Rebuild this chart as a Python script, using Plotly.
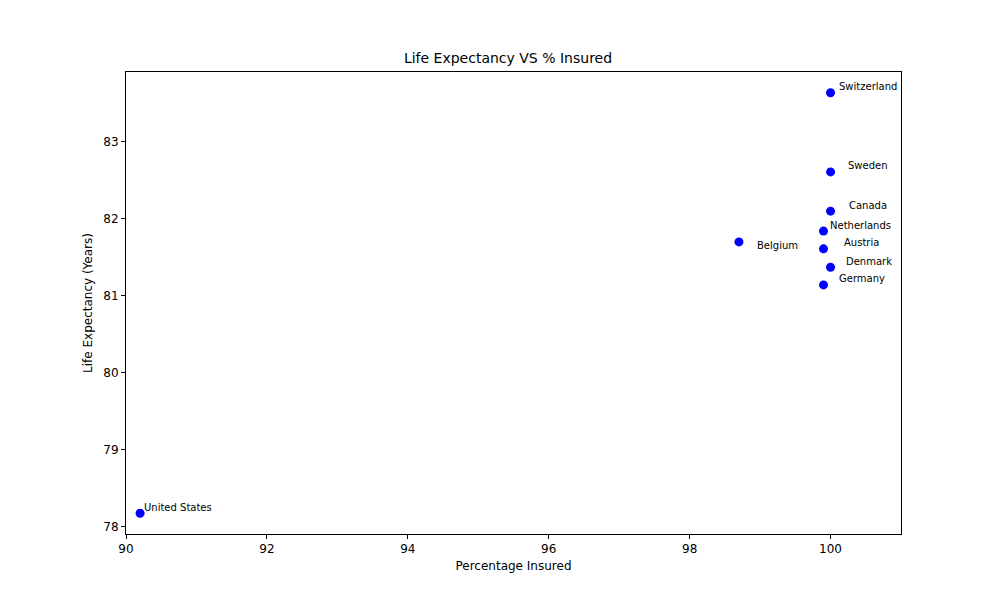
import plotly.graph_objects as go

countries = ["United States", "Switzerland", "Sweden", "Canada", "Netherlands",
             "Belgium", "Austria", "Denmark", "Germany"]
pct_insured = [90.2, 100.0, 100.0, 100.0, 99.9, 98.7, 99.9, 100.0, 99.9]
life_exp = [78.17, 83.64, 82.61, 82.10, 81.84, 81.70, 81.61, 81.37, 81.14]

# label offsets in pixels (x, y)
label_dx = [2, 6, 15, 16, 4, 16, 18, 13, 13]
label_dy = [6, 6, 6, 6, 6, -4, 6, 6, 6]

fig = go.Figure()
fig.add_scatter(x=pct_insured, y=life_exp, mode="markers",
                marker=dict(color="blue", size=9), showlegend=False)

for c, x, y, dx, dy in zip(countries, pct_insured, life_exp, label_dx, label_dy):
    fig.add_annotation(x=x, y=y, text=c, showarrow=False, xanchor="left",
                       yanchor="middle", xshift=dx, yshift=dy,
                       font=dict(size=10, color="black"))

axis_style = dict(showgrid=False, zeroline=False, showline=True, mirror=True,
                  linecolor="black", linewidth=1, ticks="outside", ticklen=4,
                  tickcolor="black", tickfont=dict(size=12, color="black"))

fig.update_xaxes(range=[90, 101], dtick=2, title_text="Percentage Insured",
                 title_font=dict(size=12, color="black"), title_standoff=6,
                 **axis_style)
fig.update_yaxes(range=[77.9, 83.91], dtick=1, title_text="Life Expectancy (Years)",
                 title_font=dict(size=12, color="black"), title_standoff=8,
                 **axis_style)

fig.update_layout(
    width=1000, height=600,
    margin=dict(l=118, r=107, t=64, b=74),
    paper_bgcolor="white", plot_bgcolor="white",
    font=dict(family="DejaVu Sans", color="black"),
    title=dict(text="Life Expectancy VS % Insured", x=0.5, xanchor="center",
               y=1 - 50 / 600, yanchor="middle", font=dict(size=14)),
)

fig.write_html("out.html")
